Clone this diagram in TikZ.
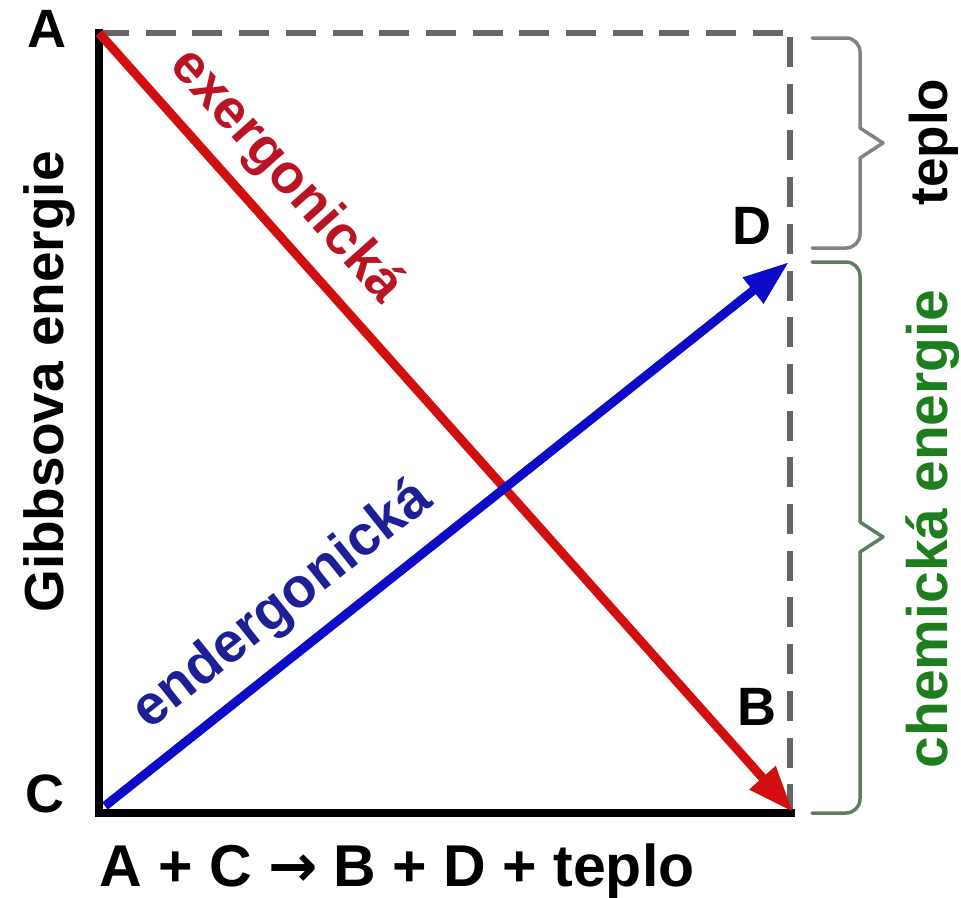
\documentclass[tikz,border=0pt]{standalone}
\usepackage{fontspec}
\setmainfont{Liberation Sans}
\newfontfamily\arrfont{DejaVu Sans}
\usetikzlibrary{arrows.meta}
\definecolor{arrred}{RGB}{210,15,15}
\definecolor{arrblue}{RGB}{15,10,200}
\definecolor{txtred}{RGB}{185,20,35}
\definecolor{txtblue}{RGB}{30,30,150}
\definecolor{txtgreen}{RGB}{30,125,30}
\definecolor{bracegray}{RGB}{130,130,130}
\definecolor{bracegreen}{RGB}{95,125,95}
\begin{document}
\begin{tikzpicture}[x=1pt,y=-1pt,
  lbl/.style={inner sep=0pt,font=\fontsize{54}{60}\selectfont\bfseries},
  axis/.style={line width=8pt,black},
  dashline/.style={line width=5.5pt,black!60,dash pattern=on 30pt off 16.7pt},
  redarrow/.style={line width=9pt,arrred,-{Triangle[length=46pt,width=33pt]}},
  bluearrow/.style={line width=9pt,arrblue,-{Triangle[length=46pt,width=31pt]}},
  bracestyle/.style={line width=3.5pt,line cap=round,line join=round}]
\useasboundingbox (0,0) rectangle (961,897);
% key points
\coordinate (TL) at (99,33);
\coordinate (BL) at (99,813);
\coordinate (BR) at (795,813);
\coordinate (TR) at (790,33);
\coordinate (TRv) at (790,37);
\coordinate (BRv) at (790,810);
\coordinate (Bend) at (793,812);
\coordinate (Cstart) at (105,806);
\coordinate (Dend) at (789,262);
% dashed frame
\draw[dashline] (TL) -- (TR);
\draw[dashline] (TRv) -- (BRv);
% axes
\draw[axis] (99,29) -- (BL) -- (BR);
% arrows
\draw[redarrow] (TL) -- (Bend);
\draw[bluearrow] (Cstart) -- (Dend);
% arrow labels
\node[inner sep=0pt,font=\fontsize{55}{60}\selectfont\bfseries,text=txtred,rotate=-48.3,anchor=base] (exer) at (275,186) {exergonická};
\node[inner sep=0pt,font=\fontsize{56}{60}\selectfont\bfseries,text=txtblue,rotate=38.5,anchor=base] (ender) at (292,617) {endergonická};
% corner labels
\node[lbl] (A) at (47,29) {A};
\node[lbl] (C) at (45,794) {C};
\node[lbl] (D) at (752,226) {D};
\node[lbl] (B) at (757,707) {B};
% axis titles
\node[inner sep=0pt,font=\fontsize{55}{60}\selectfont\bfseries,rotate=90,anchor=base] (gibbs) at (63,382) {Gibbsova energie};
\node[inner sep=0pt,font=\fontsize{59}{62}\selectfont\bfseries,anchor=base west] (eq) at (99,886) {A + C {\arrfont →} B + D + teplo};
% braces
\draw[bracestyle,bracegray,rounded corners=14pt] (812,38) -- (860,38) -- (860,128);
\draw[bracestyle,bracegray] (860,128) -- (883,143) -- (860,158);
\draw[bracestyle,bracegray,rounded corners=14pt] (860,158) -- (860,248) -- (812,248);
\draw[bracestyle,bracegreen,rounded corners=14pt] (812,262) -- (860,262) -- (860,522);
\draw[bracestyle,bracegreen] (860,522) -- (883,537) -- (860,552);
\draw[bracestyle,bracegreen,rounded corners=14pt] (860,552) -- (860,813) -- (812,813);
\node[inner sep=0pt,font=\fontsize{53}{60}\selectfont\bfseries,rotate=90,anchor=base] (teplo) at (947,142) {teplo};
\node[inner sep=0pt,font=\fontsize{57}{62}\selectfont\bfseries,text=txtgreen,rotate=90,anchor=base] (chem) at (947,529) {chemická energie};
\end{tikzpicture}
\end{document}
